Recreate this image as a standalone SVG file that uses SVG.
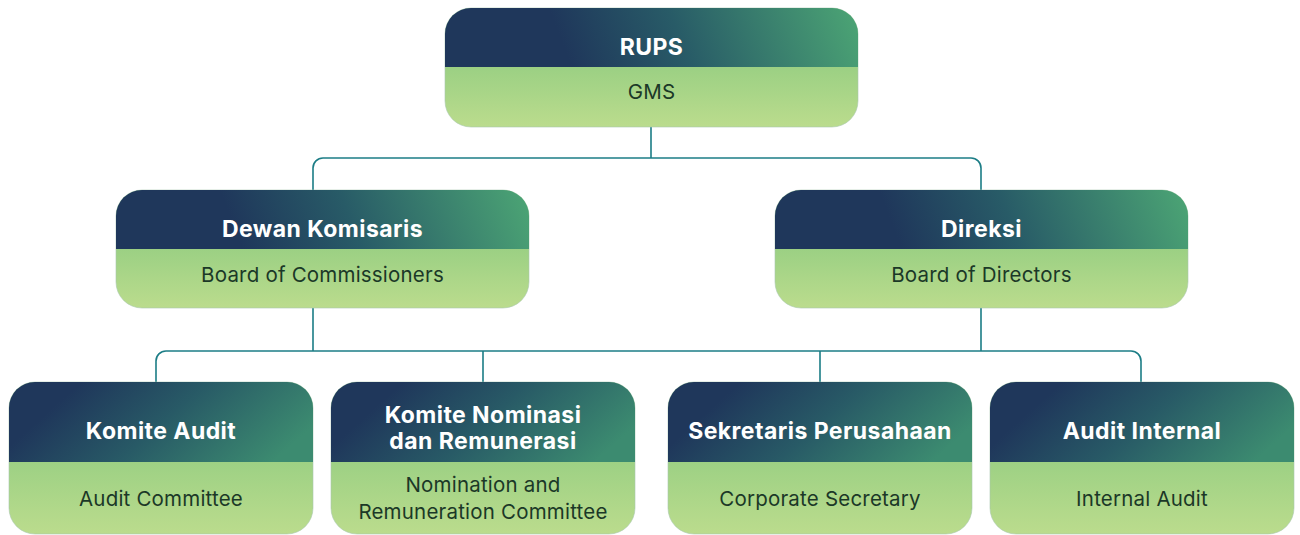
<svg xmlns="http://www.w3.org/2000/svg" width="1300" height="535" viewBox="0 0 1300 535">
<defs>
<linearGradient id="hg" x1="0.28" y1="0.52" x2="1" y2="0.48">
<stop offset="0" stop-color="#1f375b"/>
<stop offset="0.4" stop-color="#285b67"/>
<stop offset="1" stop-color="#4aa174"/>
</linearGradient>
<linearGradient id="hgs" x1="0.15" y1="0.3" x2="1" y2="0.55">
<stop offset="0" stop-color="#1f375b"/>
<stop offset="0.45" stop-color="#285a66"/>
<stop offset="1" stop-color="#3c8b70"/>
</linearGradient>
<linearGradient id="bg" x1="0" y1="0" x2="0" y2="1">
<stop offset="0" stop-color="#7cc47a"/>
<stop offset="1" stop-color="#bbdc8d"/>
</linearGradient>
<style>
.body{fill:url(#bg);stroke:#a9c7b0;stroke-width:0.6}
.head{fill:url(#hg)}
.heads{fill:url(#hgs)}
.t{font-family:Inter,"Liberation Sans",sans-serif;font-weight:700;font-size:23px;letter-spacing:0.45px;fill:#ffffff;text-anchor:middle}
.s{font-family:Inter,"Liberation Sans",sans-serif;font-weight:400;font-size:20.5px;letter-spacing:0.2px;fill:#1b3827;text-anchor:middle}
.c{fill:none;stroke:#1c7d86;stroke-width:1.6}
</style>
</defs>
<g id="connectors">
<path class="c" d="M651,127 V158 M313,190 V168 A10,10 0 0 1 323,158 H971 A10,10 0 0 1 981,168 V190"/>
<path class="c" d="M313,308 V351 M981,308 V351 M156,383 V361 A10,10 0 0 1 166,351 H1131 A10,10 0 0 1 1141,361 V383 M483,351 V383 M820,351 V383"/>
</g>
<g id="rups">
<rect class="body" x="445" y="8" width="413" height="119" rx="26"/>
<path class="head" d="M445,67 V34 A26,26 0 0 1 471,8 H832 A26,26 0 0 1 858,34 V67 Z"/>
<text class="t" x="651.5" y="55">RUPS</text>
<text class="s" x="651.5" y="99">GMS</text>
</g>
<g id="dewan-komisaris">
<rect class="body" x="116" y="190" width="413" height="118" rx="26"/>
<path class="head" d="M116,249 V216 A26,26 0 0 1 142,190 H503 A26,26 0 0 1 529,216 V249 Z"/>
<text class="t" x="322.5" y="237">Dewan Komisaris</text>
<text class="s" x="322.5" y="282">Board of Commissioners</text>
</g>
<g id="direksi">
<rect class="body" x="775" y="190" width="413" height="118" rx="26"/>
<path class="head" d="M775,249 V216 A26,26 0 0 1 801,190 H1162 A26,26 0 0 1 1188,216 V249 Z"/>
<text class="t" x="981.5" y="237">Direksi</text>
<text class="s" x="981.5" y="282">Board of Directors</text>
</g>
<g id="komite-audit">
<rect class="body" x="9" y="382" width="304" height="152" rx="26"/>
<path class="heads" d="M9,462 V408 A26,26 0 0 1 35,382 H287 A26,26 0 0 1 313,408 V462 Z"/>
<text class="t" x="161" y="439">Komite Audit</text>
<text class="s" x="161" y="506">Audit Committee</text>
</g>
<g id="komite-nominasi">
<rect class="body" x="331" y="382" width="304" height="152" rx="26"/>
<path class="heads" d="M331,462 V408 A26,26 0 0 1 357,382 H609 A26,26 0 0 1 635,408 V462 Z"/>
<text class="t" x="483" y="423">Komite Nominasi</text>
<text class="t" x="483" y="449">dan Remunerasi</text>
<text class="s" x="483" y="492">Nomination and</text>
<text class="s" x="483" y="519">Remuneration Committee</text>
</g>
<g id="sekretaris-perusahaan">
<rect class="body" x="668" y="382" width="304" height="152" rx="26"/>
<path class="heads" d="M668,462 V408 A26,26 0 0 1 694,382 H946 A26,26 0 0 1 972,408 V462 Z"/>
<text class="t" x="820" y="439">Sekretaris Perusahaan</text>
<text class="s" x="820" y="506">Corporate Secretary</text>
</g>
<g id="audit-internal">
<rect class="body" x="990" y="382" width="304" height="152" rx="26"/>
<path class="heads" d="M990,462 V408 A26,26 0 0 1 1016,382 H1268 A26,26 0 0 1 1294,408 V462 Z"/>
<text class="t" x="1142" y="439">Audit Internal</text>
<text class="s" x="1142" y="506">Internal Audit</text>
</g>
</svg>
